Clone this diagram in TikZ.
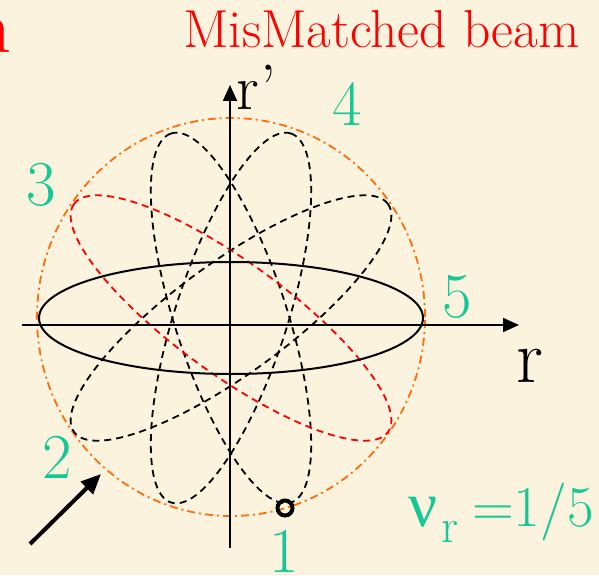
\documentclass[tikz,border=0pt]{standalone}
\usepackage{fontspec}
\newfontfamily\grk{Liberation Serif}
\usetikzlibrary{arrows.meta}
\definecolor{bgc}{RGB}{251,243,222}
\definecolor{teal1}{RGB}{20,200,150}
\definecolor{orng}{RGB}{255,110,10}
\definecolor{redc}{RGB}{255,0,0}
\tikzset{
  lbl/.style={text=teal1,font=\fontsize{64}{64}\selectfont,inner sep=0pt,anchor=base},
  blk/.style={font=\fontsize{64}{64}\selectfont,inner sep=0pt,anchor=base},
  orbit/.style={black,line width=1.8pt,dash pattern=on 7pt off 5pt},
  redorbit/.style={redc,line width=1.8pt,dash pattern=on 7pt off 5pt},
  matched/.style={orng,line width=1.8pt,dash pattern=on 8pt off 4pt on 2pt off 4pt},
  axis/.style={line width=2pt,-{Triangle[length=16pt,width=14pt]}}
}
\begin{document}
\begin{tikzpicture}[x=1pt,y=-1pt]
\useasboundingbox (0,0) rectangle (599,575);
\fill[bgc] (0,0) rectangle (599,575);
% titles
\node[text=redc,font=\fontsize{74}{74}\selectfont,inner sep=0pt,anchor=base east] (tn) at (12,53) {n};
\node[text=redc,font=\fontsize{53.5}{53.5}\selectfont,inner sep=0pt,anchor=base west] (title) at (183,48) {MisMatched beam};
% matched circle
\draw[matched] (231,317) ellipse [x radius=194pt, y radius=199pt];
% rotated ellipses
\draw[orbit] [shift={(231,318)},rotate=36] (0,0) ellipse [x radius=194pt, y radius=56pt];
\draw[orbit] [shift={(231,318)},rotate=72] (0,0) ellipse [x radius=194pt, y radius=56pt];
\draw[orbit] [shift={(231,318)},rotate=108] (0,0) ellipse [x radius=194pt, y radius=56pt];
\draw[redorbit] [shift={(231,318)},rotate=144] (0,0) ellipse [x radius=194pt, y radius=56pt];
\draw[line width=2pt] (231,318) ellipse [x radius=192pt, y radius=56pt];
% axes
\coordinate (xl) at (22,325);
\coordinate (xr) at (519,325);
\coordinate (yb) at (230,548);
\coordinate (yt) at (230,85);
\draw[axis] (xl) -- (xr);
\draw[axis] (yb) -- (yt);
\node[blk] (rp) at (248,110) {r};
\node[blk,anchor=base west] (rq) at (260,110) {’};
\node[blk,font=\fontsize{76}{76}\selectfont] (rr) at (530,382) {r};
% point labels
\node[lbl] (l1) at (284,572) {1};
\node[lbl] (l2) at (57,478) {2};
\node[lbl] (l3) at (41,205) {3};
\node[lbl] (l4) at (347,125) {4};
\node[lbl] (l5) at (457,317) {5};
% marker
\node[draw=black,line width=4pt,circle,minimum size=15pt,inner sep=0pt] (mk) at (285,508) {};
% pointer arrow
\coordinate (pa) at (30,544);
\coordinate (pb) at (101,474);
\draw[line width=4pt,-{Triangle[length=20pt,width=17pt]}] (pa) -- (pb);
% tune
\node[text=teal1,font=\grk\fontsize{64}{64}\selectfont,inner sep=0pt,anchor=base west] (nu) at (408,526) {ν};
\node[text=teal1,font=\fontsize{48}{48}\selectfont,inner sep=0pt,anchor=base west] (nur) at (441,542) {r};
\node[text=teal1,font=\fontsize{58}{58}\selectfont,inner sep=0pt,anchor=base west] (eq) at (472,526) {=1/5};
\end{tikzpicture}
\end{document}
